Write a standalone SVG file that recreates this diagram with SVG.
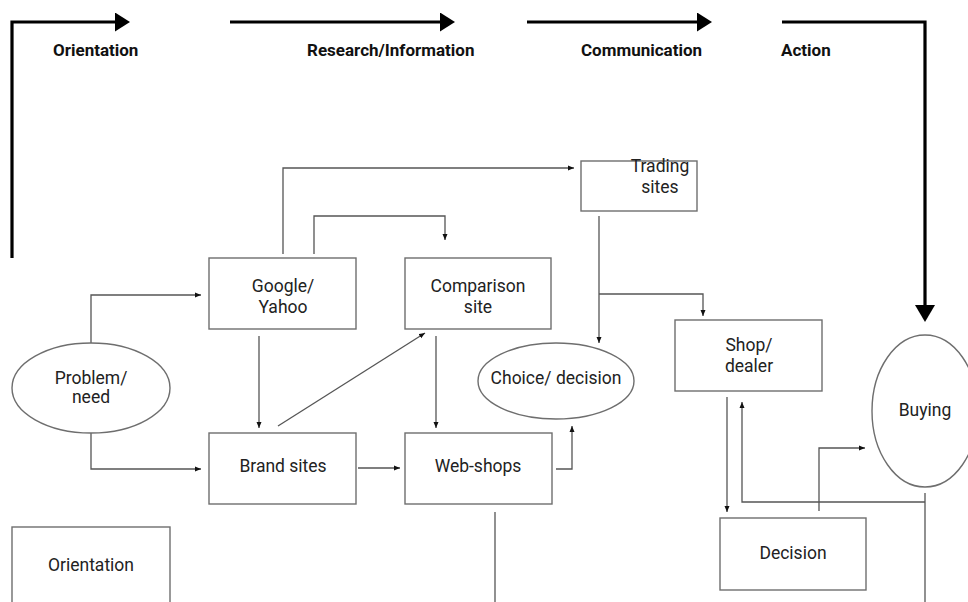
<svg xmlns="http://www.w3.org/2000/svg" width="968" height="602" viewBox="0 0 968 602">
<style>
.box{fill:#fff;stroke:#6e6e6e;stroke-width:1.4}
.lbl{font-family:Roboto,"Liberation Sans",sans-serif;font-size:17.5px;fill:#222;text-anchor:middle}
.hdr{font-family:Roboto,"Liberation Sans",sans-serif;font-size:17px;font-weight:bold;fill:#111}
.thick{fill:none;stroke:#000;stroke-width:3.2}
.thin{fill:none;stroke:#555;stroke-width:1.3}
</style>
<defs>
<marker id="big" viewBox="0 0 15 19" refX="0" refY="9.5" markerUnits="userSpaceOnUse" markerWidth="15" markerHeight="19" orient="auto">
<path d="M0,0 L15,9.5 L0,19 Z" fill="#000"/>
</marker>
<marker id="bigd" viewBox="0 0 17 20" refX="0" refY="10" markerUnits="userSpaceOnUse" markerWidth="17" markerHeight="20" orient="auto">
<path d="M0,0 L17,10 L0,20 Z" fill="#000"/>
</marker>
<marker id="sm" viewBox="0 0 6 6" refX="6" refY="3" markerUnits="userSpaceOnUse" markerWidth="6" markerHeight="6" orient="auto">
<path d="M0,0.5 L6,3 L0,5.5 Z" fill="#111"/>
</marker>
</defs>

<g id="phase-arrows">
<path class="thick" d="M12,258 V22 H115" marker-end="url(#big)"/>
<path class="thick" d="M230,22 H440" marker-end="url(#big)"/>
<path class="thick" d="M527,22 H697" marker-end="url(#big)"/>
<path class="thick" d="M782,22 H925 V305" marker-end="url(#bigd)"/>
<text class="hdr" x="53" y="56">Orientation</text>
<text class="hdr" x="307" y="56">Research/Information</text>
<text class="hdr" x="581" y="56">Communication</text>
<text class="hdr" x="781" y="56">Action</text>
</g>

<g id="connectors">
<path class="thin" d="M91,343 V295 H201" marker-end="url(#sm)"/>
<path class="thin" d="M91,433 V469 H201" marker-end="url(#sm)"/>
<path class="thin" d="M259,336 V428" marker-end="url(#sm)"/>
<path class="thin" d="M278,426 L425,333" marker-end="url(#sm)"/>
<path class="thin" d="M436,336 V428" marker-end="url(#sm)"/>
<path class="thin" d="M358,468 H400" marker-end="url(#sm)"/>
<path class="thin" d="M556,469 H572 V426" marker-end="url(#sm)"/>
<path class="thin" d="M495,512 V602"/>
<path class="thin" d="M283,254 V168 H574" marker-end="url(#sm)"/>
<path class="thin" d="M314,254 V216 H445 V240" marker-end="url(#sm)"/>
<path class="thin" d="M599,216 V343" marker-end="url(#sm)"/>
<path class="thin" d="M599,294 H703 V316" marker-end="url(#sm)"/>
<path class="thin" d="M727,397 V512" marker-end="url(#sm)"/>
<path class="thin" d="M925,493 V602"/>
<path class="thin" d="M925,502 H742 V402" marker-end="url(#sm)"/>
<path class="thin" d="M819,511 V448 H865" marker-end="url(#sm)"/>
</g>

<g id="node-trading">
<rect class="box" x="581" y="161" width="116" height="50"/>
<text class="lbl" x="660" y="172">Trading</text>
<text class="lbl" x="660" y="193">sites</text>
</g>
<g id="node-google">
<rect class="box" x="209" y="258" width="147" height="71"/>
<text class="lbl" x="283" y="292">Google/</text>
<text class="lbl" x="283" y="313">Yahoo</text>
</g>
<g id="node-comparison">
<rect class="box" x="405" y="258" width="146" height="71"/>
<text class="lbl" x="478" y="292">Comparison</text>
<text class="lbl" x="478" y="313">site</text>
</g>
<g id="node-problem">
<ellipse class="box" cx="91" cy="388" rx="79" ry="45"/>
<text class="lbl" x="91" y="384">Problem/</text>
<text class="lbl" x="91" y="403">need</text>
</g>
<g id="node-brand">
<rect class="box" x="209" y="433" width="147" height="71"/>
<text class="lbl" x="283" y="472">Brand sites</text>
</g>
<g id="node-webshops">
<rect class="box" x="405" y="433" width="147" height="71"/>
<text class="lbl" x="478" y="472">Web-shops</text>
</g>
<g id="node-choice">
<ellipse class="box" cx="556" cy="381" rx="78" ry="38"/>
<text class="lbl" x="556" y="384">Choice/ decision</text>
</g>
<g id="node-shop">
<rect class="box" x="675" y="320" width="147" height="71"/>
<text class="lbl" x="749" y="351">Shop/</text>
<text class="lbl" x="749" y="372">dealer</text>
</g>
<g id="node-buying">
<ellipse class="box" cx="925" cy="411" rx="53" ry="76"/>
<text class="lbl" x="925" y="416">Buying</text>
</g>
<g id="node-decision">
<rect class="box" x="720" y="518" width="146" height="72"/>
<text class="lbl" x="793" y="559">Decision</text>
</g>
<g id="node-orientation">
<rect class="box" x="12" y="527" width="158" height="90"/>
<text class="lbl" x="91" y="571">Orientation</text>
</g>
</svg>
